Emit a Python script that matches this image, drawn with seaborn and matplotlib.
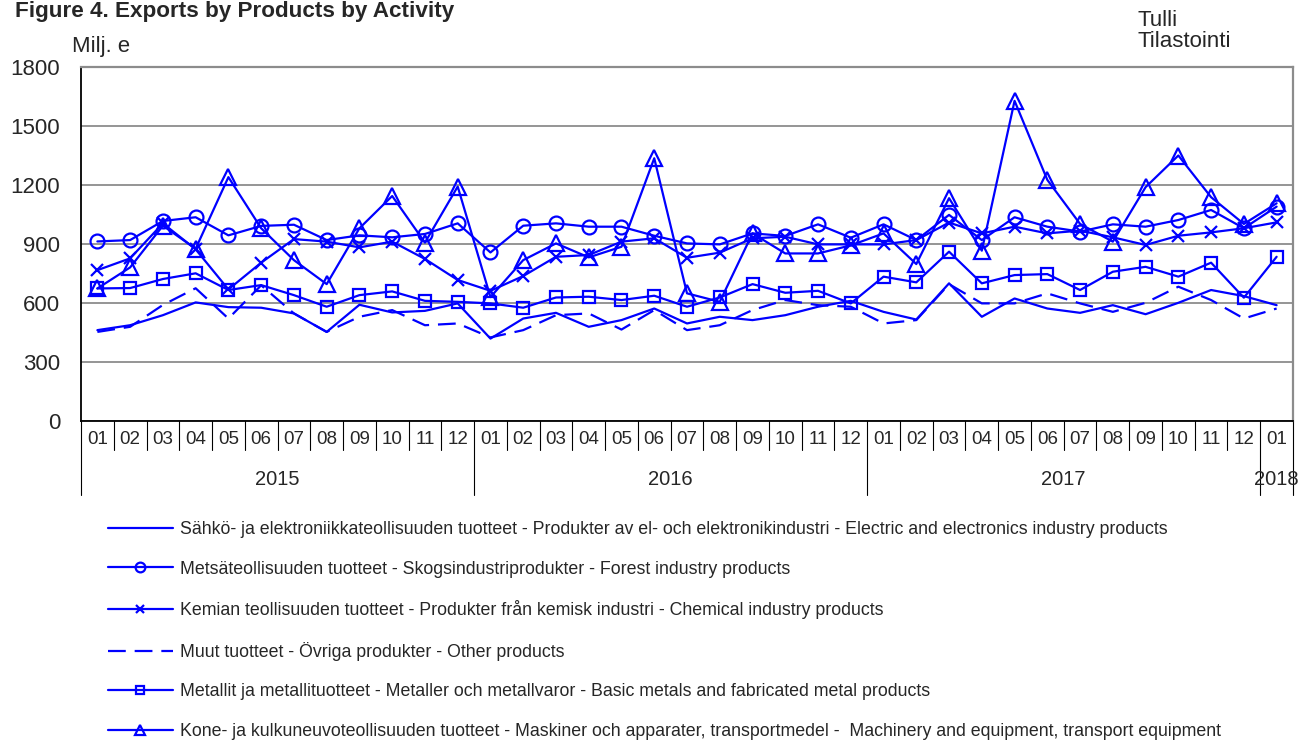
import numpy as np
import pandas as pd
import matplotlib
matplotlib.use('Agg')
import matplotlib.pyplot as plt
import matplotlib.transforms as mtransforms
import seaborn as sns

months = ['01', '02', '03', '04', '05', '06', '07', '08', '09', '10', '11', '12'] * 3 + ['01']
years = ['2015', '2016', '2017', '2018']

electric = [462, 487, 538, 603, 579, 576, 547, 453, 591, 552, 560, 598,
            419, 521, 550, 479, 513, 572, 496, 530, 513, 538, 581, 611,
            555, 516, 700, 530, 623, 572, 550, 589, 543, 601, 666, 635,
            589]
forest = [913, 920, 1017, 1036, 944, 992, 998, 920, 944, 934, 951, 1005,
          857, 993, 1005, 988, 988, 942, 903, 898, 954, 941, 1000, 932,
          1000, 920, 1048, 920, 1036, 988, 963, 1000, 988, 1022, 1073, 980,
          1090]
chemical = [767, 827, 1005, 873, 669, 805, 925, 912, 883, 912, 824, 717,
            662, 737, 835, 844, 912, 929, 830, 856, 929, 937, 898, 898,
            898, 920, 1009, 954, 988, 954, 968, 934, 895, 942, 959, 980,
            1010]
other = [453, 479, 590, 675, 521, 690, 547, 453, 530, 564, 487, 496,
         425, 462, 538, 547, 465, 564, 462, 487, 564, 615, 589, 581,
         496, 513, 696, 598, 598, 649, 598, 555, 601, 683, 615, 521,
         572]
metals = [674, 676, 722, 751, 666, 691, 640, 581, 640, 659, 611, 606,
          598, 576, 628, 632, 615, 637, 581, 628, 696, 652, 662, 598,
          734, 705, 861, 700, 742, 747, 666, 759, 784, 734, 805, 627,
          835]
machinery = [674, 781, 993, 876, 1240, 980, 818, 696, 980, 1144, 907, 1192,
             630, 818, 903, 832, 886, 1336, 649, 606, 954, 852, 852, 893,
             954, 798, 1133, 866, 1628, 1226, 1002, 912, 1189, 1350, 1138, 1002,
             1107]

labels = [
    'Sähkö- ja elektroniikkateollisuuden tuotteet - Produkter av el- och elektronikindustri - Electric and electronics industry products',
    'Metsäteollisuuden tuotteet - Skogsindustriprodukter - Forest industry products',
    'Kemian teollisuuden tuotteet - Produkter från kemisk industri - Chemical industry products',
    'Muut tuotteet - Övriga produkter - Other products',
    'Metallit ja metallituotteet - Metaller och metallvaror - Basic metals and fabricated metal products',
    'Kone- ja kulkuneuvoteollisuuden tuotteet - Maskiner och apparater, transportmedel -  Machinery and equipment, transport equipment',
]

sns.set_style('white')
plt.rcParams['font.family'] = ['Liberation Sans', 'DejaVu Sans']

W, H = 1299, 742
fig = plt.figure(figsize=(W / 100, H / 100), dpi=100)
left, right, top, bottom = 81, 1293, 67, 421
ax = fig.add_axes([left / W, 1 - bottom / H, (right - left) / W, (bottom - top) / H])

x = np.arange(len(months))
blue = '#0000ff'
series = [electric, forest, chemical, other, metals, machinery]
styles = [
    dict(marker=None, linestyle='-'),
    dict(marker='o', linestyle='-', markersize=10),
    dict(marker='x', linestyle='-', markersize=9),
    dict(marker=None, linestyle=(0, (8, 4))),
    dict(marker='s', linestyle='-', markersize=8.5),
    dict(marker='^', linestyle='-', markersize=11),
]
for vals, lab, st in zip(series, labels, styles):
    sns.lineplot(x=x, y=vals, ax=ax, color=blue, linewidth=1.6, label=lab, **st)

for ln in ax.lines:
    ln.set_markerfacecolor('none')
    ln.set_markeredgecolor(blue)
    ln.set_markeredgewidth(1.6)

ax.set_ylim(0, 1800)
ax.set_yticks(range(0, 1801, 300))
ax.set_xlim(-0.5, len(months) - 0.5)
ax.yaxis.grid(True, color='#8c8c8c', linewidth=1.3)
ax.set_axisbelow(True)
for s in ['left', 'bottom']:
    ax.spines[s].set_color('black')
    ax.spines[s].set_linewidth(1.3)
for s in ['top', 'right']:
    ax.spines[s].set_color('#8c8c8c')
    ax.spines[s].set_linewidth(1.6)
ax.tick_params(axis='y', direction='out', length=6, width=1, color='black',
               labelsize=16, pad=9)
ax.set_xticks([])
ax.get_legend().remove()

# category axis: months and years
trans = mtransforms.blended_transform_factory(ax.transData, ax.transAxes)
hpx = bottom - top
for i, m in enumerate(months):
    ax.text(i, -19 / hpx, m, transform=trans, ha='center', va='center',
            fontsize=13.5)
for i in range(1, len(months)):
    depth = 74 if i % 12 == 0 else 29
    ax.plot([i - 0.5, i - 0.5], [0, -depth / hpx], transform=trans,
            color='black', linewidth=0.8, clip_on=False)
for edge in [-0.5, len(months) - 0.5]:
    ax.plot([edge, edge], [0, -74 / hpx], transform=trans,
            color='black', linewidth=0.8, clip_on=False)
for k, yr in enumerate(years):
    start = k * 12
    end = min(start + 12, len(months))
    ax.text((start + end - 1) / 2, -59 / hpx, yr, transform=trans,
            ha='center', va='center', fontsize=14.5)

fig.text(15 / W, 1 - 17 / H, 'Figure 4. Exports by Products by Activity',
         fontsize=16.2, fontweight='bold', ha='left', va='baseline')
fig.text(72 / W, 1 - 52 / H, 'Milj. e', fontsize=15.9, ha='left', va='baseline')
fig.text(1137 / W, 1 - 26 / H, 'Tulli', fontsize=16, ha='left', va='baseline')
fig.text(1137 / W, 1 - 47 / H, 'Tilastointi', fontsize=16, ha='left', va='baseline')

handles, labs = ax.get_legend_handles_labels()
fig.legend(handles, labs, loc='upper left', bbox_to_anchor=(108 / W, 1 - 521 / H),
           frameon=False, fontsize=12.8, handlelength=3.65, handletextpad=0.4,
           labelspacing=1.27, markerscale=0.7, borderpad=0, borderaxespad=0)

fig.savefig('out.png', dpi=100)
